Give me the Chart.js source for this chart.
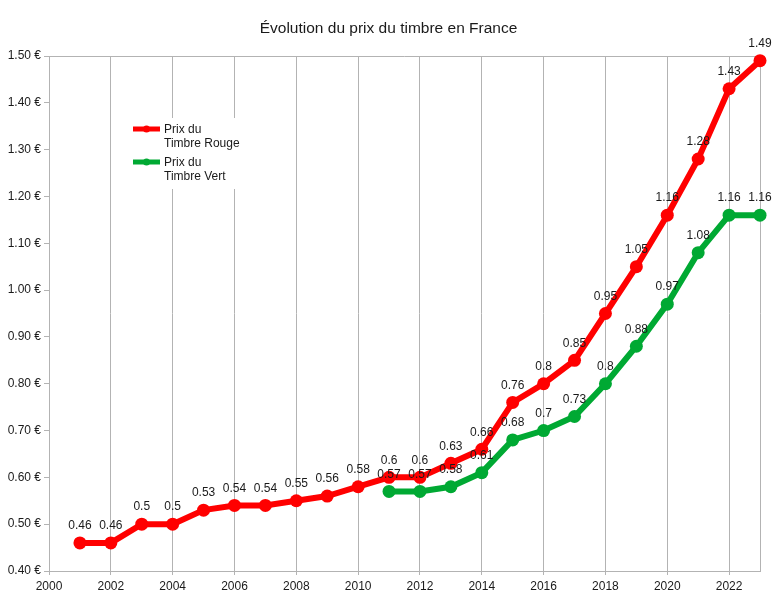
<!DOCTYPE html>
<html>
<head>
<meta charset="utf-8">
<script src="https://cdn.jsdelivr.net/npm/chart.js@4/dist/chart.umd.min.js"></script>
<style>
  html, body { margin: 0; padding: 0; background: #fff; }
  #wrap { width: 777px; height: 601px; position: relative; }
</style>
</head>
<body>
<div id="wrap"><canvas id="c" width="777" height="601"></canvas></div>
<script>
const TITLE = "Évolution du prix du timbre en France";
const redYears = [2001,2002,2003,2004,2005,2006,2007,2008,2009,2010,2011,2012,2013,2014,2015,2016,2017,2018,2019,2020,2021,2022,2023];
const redValues = [0.46,0.46,0.5,0.5,0.53,0.54,0.54,0.55,0.56,0.58,0.6,0.6,0.63,0.66,0.76,0.8,0.85,0.95,1.05,1.16,1.28,1.43,1.49];
const greenYears = [2011,2012,2013,2014,2015,2016,2017,2018,2019,2020,2021,2022,2023];
const greenValues = [0.57,0.57,0.58,0.61,0.68,0.7,0.73,0.8,0.88,0.97,1.08,1.16,1.16];
const redLabel = ["Prix du", "Timbre Rouge"];
const greenLabel = ["Prix du", "Timbre Vert"];

const RED = "#ff0000";
const GREEN = "#00a933";
const GRID = "#b3b3b3";
const TEXT = "#1a1a1a";
const FONT = "'Liberation Sans', Arial, sans-serif";

const toPts = (xs, ys) => xs.map((x, i) => ({ x: x, y: ys[i] }));

const titlePlugin = {
  id: 'titlePlugin',
  afterDraw(chart) {
    const ctx = chart.ctx;
    ctx.save();
    ctx.font = "15.5px " + FONT;
    ctx.fillStyle = TEXT;
    ctx.textAlign = "center";
    ctx.textBaseline = "alphabetic";
    ctx.fillText(TITLE, 388.5, 33);
    ctx.restore();
  }
};

const valueLabels = {
  id: 'valueLabels',
  afterDatasetsDraw(chart) {
    const ctx = chart.ctx;
    ctx.save();
    ctx.font = "12px " + FONT;
    ctx.fillStyle = TEXT;
    ctx.textAlign = "center";
    ctx.textBaseline = "middle";
    chart.data.datasets.forEach((ds, di) => {
      const meta = chart.getDatasetMeta(di);
      meta.data.forEach((pt, i) => {
        ctx.fillText(String(ds.data[i].y), pt.x, pt.y - 17);
      });
    });
    ctx.restore();
  }
};

const frameAndLegend = {
  id: 'frameAndLegend',
  beforeDatasetsDraw(chart) {
    const a = chart.chartArea;
    const ctx = chart.ctx;
    ctx.save();
    ctx.strokeStyle = GRID;
    ctx.lineWidth = 1;
    ctx.beginPath();
    ctx.moveTo(a.left, a.top + 0.5);
    ctx.lineTo(a.right + 0.5, a.top + 0.5);
    ctx.lineTo(a.right + 0.5, a.bottom);
    ctx.stroke();
    const lx = a.left + 77, ly = a.top + 62;
    ctx.fillStyle = "#fff";
    ctx.fillRect(lx, ly, 120, 71);
    const entries = [[RED, redLabel, 0], [GREEN, greenLabel, 33]];
    ctx.font = "12px " + FONT;
    ctx.textAlign = "left";
    ctx.textBaseline = "middle";
    entries.forEach(([col, lines, dy]) => {
      const y = a.top + 73 + dy;
      ctx.strokeStyle = col;
      ctx.lineWidth = 5;
      ctx.beginPath();
      ctx.moveTo(a.left + 84, y);
      ctx.lineTo(a.left + 111, y);
      ctx.stroke();
      ctx.fillStyle = col;
      ctx.beginPath();
      ctx.arc(a.left + 97.5, y, 3.5, 0, Math.PI * 2);
      ctx.fill();
      ctx.fillStyle = TEXT;
      lines.forEach((t, k) => ctx.fillText(t, a.left + 115, y + 1 + k * 14));
    });
    ctx.restore();
  }
};

new Chart(document.getElementById('c'), {
  type: 'line',
  data: {
    datasets: [
      { label: redLabel.join(' '), data: toPts(redYears, redValues), borderColor: RED, backgroundColor: RED,
        borderWidth: 6, pointRadius: 6.5, pointHoverRadius: 6.5, pointBorderWidth: 0, tension: 0, clip: false },
      { label: greenLabel.join(' '), data: toPts(greenYears, greenValues), borderColor: GREEN, backgroundColor: GREEN,
        borderWidth: 6, pointRadius: 6.5, pointHoverRadius: 6.5, pointBorderWidth: 0, tension: 0, clip: false }
    ]
  },
  options: {
    responsive: false,
    animation: false,
    layout: { padding: { left: 0, right: 17, top: 56, bottom: 0 } },
    plugins: {
      legend: { display: false },
      tooltip: { enabled: false },
      title: { display: false }
    },
    scales: {
      x: {
        type: 'linear', min: 2000, max: 2023,
        ticks: { stepSize: 2, includeBounds: false, color: TEXT, font: { family: FONT, size: 12 },
                 padding: 4, maxRotation: 0, callback: v => String(v) },
        grid: { color: GRID, tickLength: 4, drawTicks: true },
        border: { color: GRID },
        afterFit: s => { s.height = 30; }
      },
      y: {
        min: 0.4, max: 1.5,
        ticks: { stepSize: 0.1, color: TEXT, font: { family: FONT, size: 12 }, padding: 3,
                 callback: v => v.toFixed(2) + " €" },
        grid: { drawOnChartArea: false, color: GRID, tickLength: 5 },
        border: { color: GRID },
        afterFit: s => { s.width = 49; }
      }
    }
  },
  plugins: [frameAndLegend, valueLabels, titlePlugin]
});
</script>
</body>
</html>
